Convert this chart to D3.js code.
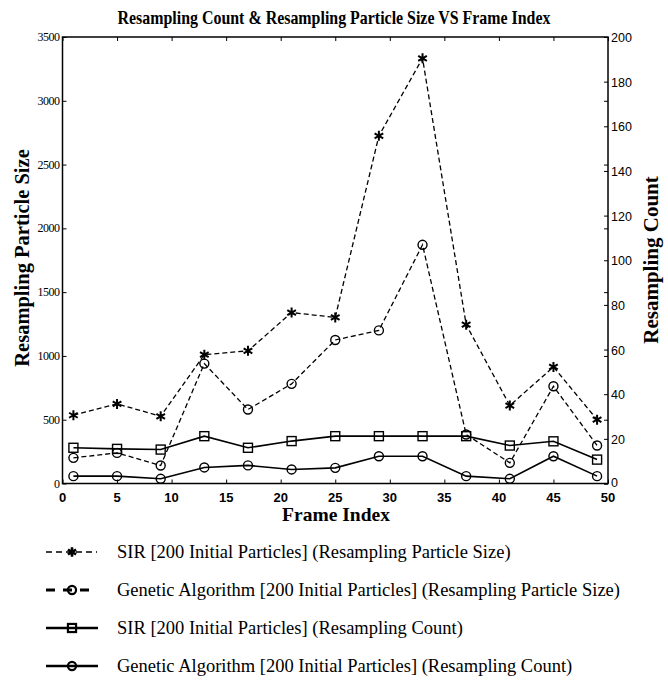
<!DOCTYPE html>
<html>
<head>
<meta charset="utf-8">
<script src="https://cdn.jsdelivr.net/npm/d3@7"></script>
<style>
body { margin: 0; background: #fff; }
svg text { fill: #000; }
</style>
</head>
<body>
<div id="chart"></div>
<script>
var frames = [1, 5, 9, 13, 17, 21, 25, 29, 33, 37, 41, 45, 49]
// left axis (Resampling Particle Size)
var sirSize = [535, 624, 527, 1010, 1040, 1340, 1302, 2725, 3333, 1245, 611, 914, 500]
var gaSize = [201, 240, 141, 940, 580, 781, 1125, 1200, 1871, 384, 162, 762, 298]
// right axis (Resampling Count)
var sirCount = [16, 15.5, 15.2, 21.2, 16, 19, 21.2, 21.2, 21.2, 21.2, 17, 18.9, 10.7]
var gaCount = [3.3, 3.3, 2.1, 7.2, 8.1, 6.3, 7, 12.2, 12.2, 3.3, 2.1, 12.2, 3.3]

var xTicks = [0, 5, 10, 15, 20, 25, 30, 35, 40, 45, 50]
var leftTicks = [0, 500, 1000, 1500, 2000, 2500, 3000, 3500]
var rightTicks = [0, 20, 40, 60, 80, 100, 120, 140, 160, 180, 200]
var legendLabels = [
	"SIR [200 Initial Particles] (Resampling Particle Size)",
	"Genetic Algorithm [200 Initial Particles] (Resampling Particle Size)",
	"SIR [200 Initial Particles] (Resampling Count)",
	"Genetic Algorithm [200 Initial Particles] (Resampling Count)"
]

var W = 668, H = 682
var plotLeft = 62.5, plotRight = 608, plotTop = 37, plotBottom = 483.5
var serif = "'Liberation Serif','Times New Roman',serif"
var sans = "'Liberation Sans',Arial,sans-serif"

var svg = d3.select("#chart").append("svg").attr("width", W).attr("height", H)

var x = d3.scaleLinear().domain([0, 50]).range([plotLeft, plotRight])
var yL = d3.scaleLinear().domain([0, 3500]).range([plotBottom, plotTop])
var yR = d3.scaleLinear().domain([0, 200]).range([plotBottom, plotTop])

// title
svg.append("text").attr("x", 334).attr("y", 24).attr("text-anchor", "middle")
	.style("font-family", serif).style("font-weight", "bold").style("font-size", "19px")
	.attr("textLength", 433).attr("lengthAdjust", "spacingAndGlyphs")
	.text("Resampling Count & Resampling Particle Size VS Frame Index")

// axes (MATLAB style, ticks inward)
var axes = svg.append("g")
axes.append("g").attr("transform", "translate(0," + plotBottom + ")")
	.call(d3.axisTop(x).tickValues(xTicks).tickSize(4).tickFormat(""))
axes.append("g").attr("transform", "translate(0," + plotTop + ")")
	.call(d3.axisBottom(x).tickValues(xTicks).tickSize(4).tickFormat(""))
axes.append("g").attr("transform", "translate(" + plotLeft + ",0)")
	.call(d3.axisRight(yL).tickValues(leftTicks).tickSize(4).tickFormat(""))
axes.append("g").attr("transform", "translate(" + plotRight + ",0)")
	.call(d3.axisLeft(yL).tickValues(leftTicks).tickSize(4).tickFormat(""))
axes.append("g").attr("transform", "translate(" + plotRight + ",0)")
	.call(d3.axisLeft(yR).tickValues(rightTicks).tickSize(4).tickFormat(""))
axes.selectAll(".domain").remove()
axes.selectAll(".tick text").remove()
axes.selectAll(".tick line").attr("stroke", "#000").attr("stroke-width", 1)

axes.append("rect").attr("x", plotLeft).attr("y", plotTop).attr("width", plotRight - plotLeft).attr("height", plotBottom - plotTop)
	.attr("fill", "none").attr("stroke", "#000").attr("stroke-width", 1.5)

// tick labels
svg.append("g").selectAll("text").data(xTicks).enter().append("text")
	.attr("x", function(d) { return x(d) }).attr("y", plotBottom + 18)
	.attr("text-anchor", "middle").style("font-family", sans).style("font-weight", "bold")
	.style("font-size", "13px").text(function(d) { return d })
svg.append("g").selectAll("text").data(leftTicks).enter().append("text")
	.attr("x", plotLeft - 3).attr("y", function(d) { return yL(d) + 4 })
	.attr("text-anchor", "end").style("font-family", serif)
	.style("font-size", "12px").style("letter-spacing", "-0.5px").text(function(d) { return d })
svg.append("g").selectAll("text").data(rightTicks).enter().append("text")
	.attr("x", plotRight + 3).attr("y", function(d) { return yR(d) + (d == 0 ? 3 : 5) })
	.attr("text-anchor", "start").style("font-family", sans)
	.style("font-size", "12.5px").text(function(d) { return d })

// axis titles
svg.append("text").attr("x", 336).attr("y", 521).attr("text-anchor", "middle")
	.style("font-family", serif).style("font-weight", "bold").style("font-size", "19.5px")
	.text("Frame Index")
svg.append("text").attr("transform", "translate(29,258) rotate(-90)").attr("text-anchor", "middle")
	.style("font-family", serif).style("font-weight", "bold").style("font-size", "20.5px")
	.text("Resampling Particle Size")
svg.append("text").attr("transform", "translate(658,260) rotate(-90)").attr("text-anchor", "middle")
	.style("font-family", serif).style("font-weight", "bold").style("font-size", "21px")
	.text("Resampling Count")

// series
var series = [
	{vals: sirSize, y: yL, dash: "5,3", marker: "star", width: 1.3},
	{vals: gaSize, y: yL, dash: "5,3", marker: "circle", width: 1.3},
	{vals: sirCount, y: yR, dash: null, marker: "square", width: 1.6},
	{vals: gaCount, y: yR, dash: null, marker: "circle", width: 1.6}
]

function drawMarker(g, kind, cx, cy, scale, sw) {
	scale = scale || 1
	if (kind == "star") {
		g.append("path").attr("d", d3.symbol().type(d3.symbolAsterisk).size(70 * scale)())
			.attr("transform", "translate(" + cx + "," + cy + ")")
			.attr("fill", "none").attr("stroke", "#000").attr("stroke-width", sw || 2)
	} else if (kind == "circle") {
		g.append("circle").attr("cx", cx).attr("cy", cy).attr("r", 4.5 * scale)
			.attr("fill", "none").attr("stroke", "#000").attr("stroke-width", sw || 1.4)
	} else {
		var s = 9 * scale
		g.append("rect").attr("x", cx - s / 2).attr("y", cy - s / 2).attr("width", s).attr("height", s)
			.attr("fill", "none").attr("stroke", "#000").attr("stroke-width", sw || 1.4)
	}
}

series.forEach(function(s) {
	var line = d3.line().x(function(d, i) { return x(frames[i]) }).y(function(d) { return s.y(d) })
	svg.append("path").datum(s.vals).attr("d", line).attr("fill", "none")
		.attr("stroke", "#000").attr("stroke-width", s.width)
		.attr("stroke-dasharray", s.dash)
	var g = svg.append("g")
	s.vals.forEach(function(v, i) { drawMarker(g, s.marker, x(frames[i]), s.y(v)) })
})

// legend
var legendY = [552, 590, 628, 666]
legendLabels.forEach(function(lbl, i) {
	var s = series[i]
	var g = svg.append("g")
	var ly = legendY[i]
	if (s.dash) {
		g.append("line").attr("x1", 46).attr("x2", 97).attr("y1", ly).attr("y2", ly)
			.attr("stroke", "#000").attr("stroke-width", i == 1 ? 3 : 1.6)
			.attr("stroke-dasharray", i == 1 ? "9,8" : "6,4")
	} else {
		g.append("line").attr("x1", 46).attr("x2", 98).attr("y1", ly).attr("y2", ly)
			.attr("stroke", "#000").attr("stroke-width", 2.6)
	}
	drawMarker(g, s.marker, 72, ly, 0.9, i == 0 ? 2.6 : 2.2)
	svg.append("text").attr("x", 117).attr("y", ly + 6)
		.style("font-family", serif).style("font-size", "18.5px").text(lbl)
})
</script>
</body>
</html>
